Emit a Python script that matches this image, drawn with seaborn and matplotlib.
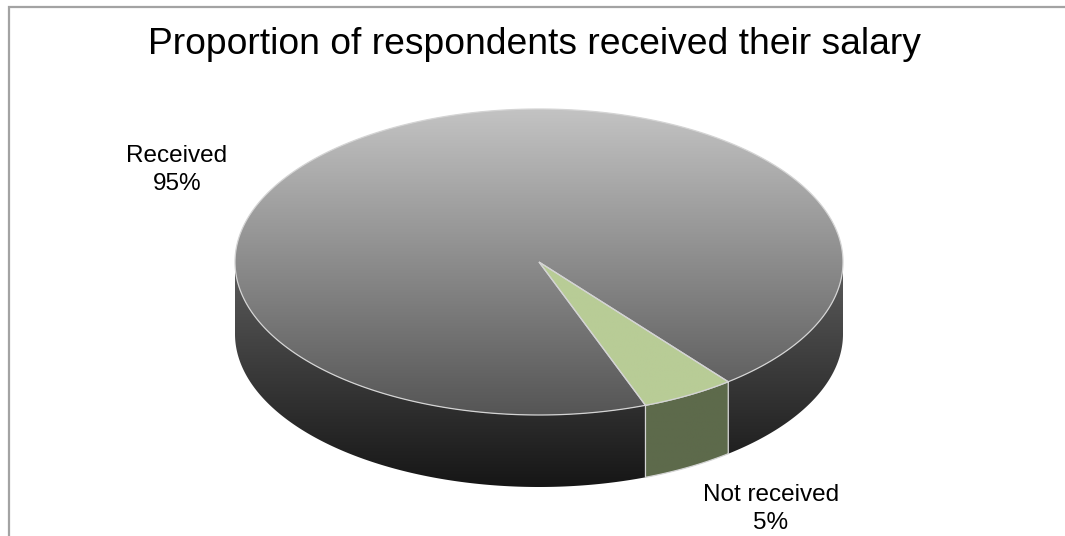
import numpy as np
import matplotlib
matplotlib.use("Agg")
import matplotlib.pyplot as plt
from matplotlib.patches import Polygon
from matplotlib.colors import LinearSegmentedColormap
import seaborn as sns

# ---- data ----
categories = ["Received", "Not received"]
shares = [95, 5]
title = "Proportion of respondents received their salary"

# ---- style ----
sns.set_style("white")
plt.rcParams['font.family'] = ['Liberation Sans', 'DejaVu Sans']

top_grad = {"Received": ("#c3c3c3", "#555555"), "Not received": ("#b8cc96", "#b8cc96")}
side_grad = {"Received": ("#5c5c5c", "#161616"), "Not received": ("#5d6a4b", "#5d6a4b")}
label_pos = {"Received": (177, 170), "Not received": (771, 509)}

cx, cy, rx, ry, depth = 539, 262, 304, 153, 72
start_angle = 290.5  # degrees, first slice drawn clockwise from here
edge_col = "#d4d4d4"

fig = plt.figure(figsize=(10.65, 5.36), dpi=100)
ax = fig.add_axes([0, 0, 1, 1])


def arc(a0, a1, n=200):
    t = np.radians(np.linspace(a0, a1, n))
    return np.column_stack([cx + rx * np.cos(t), cy - ry * np.sin(t)])


def grad_fill(poly_xy, c_top, c_bot, y0, y1, zorder, edge=None):
    patch = Polygon(poly_xy, closed=True, facecolor="none",
                    edgecolor=edge if edge else "none", lw=0.9, zorder=zorder + 0.5)
    ax.add_patch(patch)
    cmap = LinearSegmentedColormap.from_list("g", [c_top, c_bot])
    g = np.linspace(0, 1, 256).reshape(-1, 1)
    x0, x1 = poly_xy[:, 0].min() - 2, poly_xy[:, 0].max() + 2
    im = ax.imshow(g, cmap=cmap, extent=(x0, x1, y1, y0), origin="upper",
                   aspect="auto", zorder=zorder, interpolation="bilinear")
    im.set_clip_path(patch)


total = sum(shares)
spans = []
a = start_angle
for cat, v in zip(categories, shares):
    b = a - v / total * 360.0
    spans.append((cat, v, b, a))
    a = b

# side walls (front half only)
for cat, v, a0, a1 in spans:
    for k in (-1, 0, 1):
        lo, hi = max(a0, -180 + 360 * k), min(a1, 360 * k)
        if hi - lo <= 0:
            continue
        top = arc(lo, hi)
        bot = top[::-1] + np.array([0, depth])
        poly = np.vstack([top, bot])
        edge = edge_col if cat != "Received" else None
        grad_fill(poly, *side_grad[cat], cy, cy + ry + depth, zorder=2, edge=edge)

# top faces
for cat, v, a0, a1 in spans:
    pts = np.vstack([[cx, cy], arc(a0, a1, 400)])
    grad_fill(pts, *top_grad[cat], cy - ry, cy + ry, zorder=4, edge=edge_col)

# labels
for cat, v, a0, a1 in spans:
    x, y = label_pos[cat]
    ax.text(x, y, f"{cat}\n{v}%", ha="center", va="center", fontsize=17.5,
            color="black", linespacing=1.38, zorder=6)

ax.text(534, 45, title, ha="center", va="center", fontsize=26.8, color="black")

# chart frame (left & top edges)
ax.plot([8.5, 8.5, 1065], [536, 6.5, 6.5], color="#a3a3a3", lw=1.6,
        solid_joinstyle="miter", zorder=7)

ax.set_xlim(0, 1065)
ax.set_ylim(536, 0)
ax.axis("off")
fig.savefig("out.png", dpi=100, facecolor="white")
